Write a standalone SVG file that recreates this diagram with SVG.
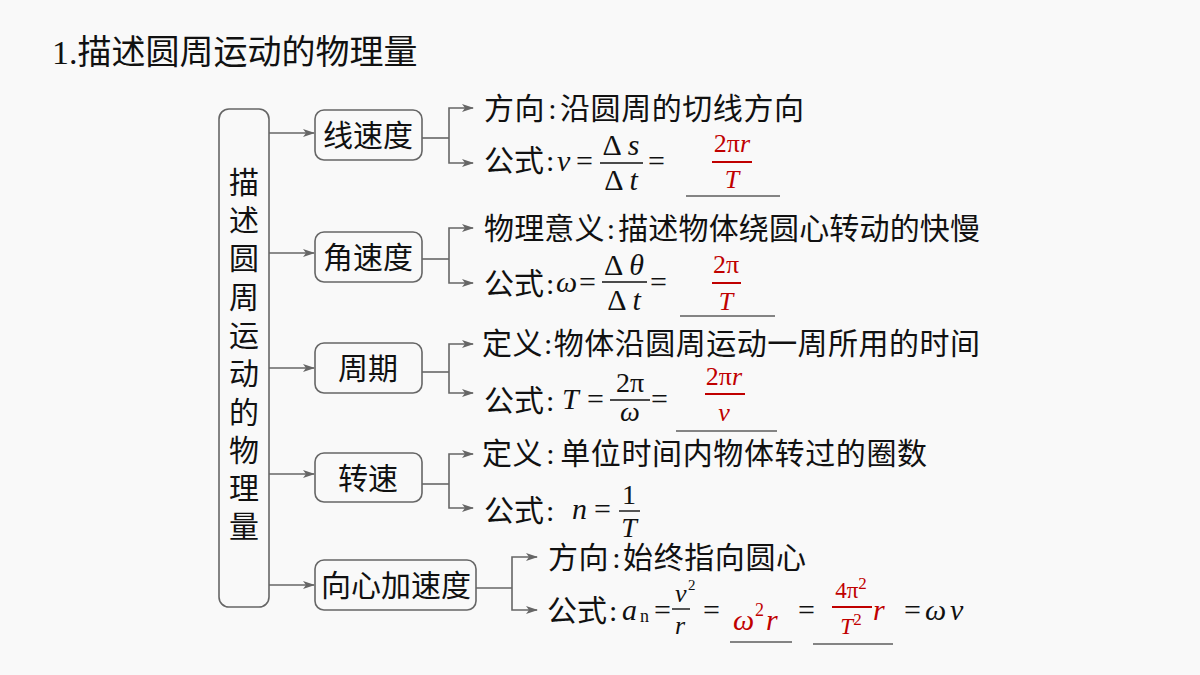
<svg xmlns="http://www.w3.org/2000/svg" width="1200" height="675" viewBox="0 0 1200 675">
<defs>
<marker id="arr" viewBox="0 0 12 10" refX="11" refY="5" markerWidth="12" markerHeight="10" markerUnits="userSpaceOnUse" orient="auto">
<path d="M0,1 L12,5 L0,9 L3,5 z" fill="#666"/>
</marker>
<style>
.t{font-family:"Liberation Serif","Noto Sans CJK SC",serif;fill:#111;}
.cj{font-size:30px;}
.m{font-family:"Liberation Serif",serif;font-size:30px;fill:#111;}
.i{font-style:italic;}
.red{fill:#c00000;}
.box{fill:none;stroke:#666;stroke-width:1.6;}
.con{fill:none;stroke:#666;stroke-width:1.6;}
.fl{stroke:#111;stroke-width:1.4;}
.rl{stroke:#c00000;stroke-width:2;}
.ul{stroke:#111;stroke-width:1.2;}
</style>
</defs>
<rect width="1200" height="675" fill="#f9f9f9"/>
<text class="t" x="52" y="64" style="font-size:34px">1.描述圆周运动的物理量</text>

<g id="root">
<rect class="box" x="219" y="109" width="50" height="498" rx="10"/>
<g class="t cj" text-anchor="middle" dominant-baseline="central">
<text x="244" y="182">描</text>
<text x="244" y="220">述</text>
<text x="244" y="258">圆</text>
<text x="244" y="297">周</text>
<text x="244" y="335">运</text>
<text x="244" y="373">动</text>
<text x="244" y="412">的</text>
<text x="244" y="450">物</text>
<text x="244" y="488">理</text>
<text x="244" y="526">量</text>
</g>
</g>

<g id="n1"><rect class="box" x="315" y="110" width="107" height="50" rx="9"/><text class="t cj" x="368" y="135" text-anchor="middle" dominant-baseline="central">线速度</text></g>
<g id="n2"><rect class="box" x="315" y="232" width="107" height="50" rx="9"/><text class="t cj" x="368" y="257" text-anchor="middle" dominant-baseline="central">角速度</text></g>
<g id="n3"><rect class="box" x="315" y="343" width="107" height="50" rx="9"/><text class="t cj" x="368" y="368" text-anchor="middle" dominant-baseline="central">周期</text></g>
<g id="n4"><rect class="box" x="315" y="453" width="107" height="49" rx="9"/><text class="t cj" x="368" y="478" text-anchor="middle" dominant-baseline="central">转速</text></g>
<g id="n5"><rect class="box" x="315" y="560" width="161" height="50" rx="9"/><text class="t cj" x="396" y="585" text-anchor="middle" dominant-baseline="central">向心加速度</text></g>

<g id="connectors">
<path class="con" d="M269,133 H314" marker-end="url(#arr)"/>
<path class="con" d="M269,253 H314" marker-end="url(#arr)"/>
<path class="con" d="M269,368 H314" marker-end="url(#arr)"/>
<path class="con" d="M269,474 H314" marker-end="url(#arr)"/>
<path class="con" d="M269,585 H314" marker-end="url(#arr)"/>

<path class="con" d="M422,138 H449"/>
<path class="con" d="M449,138 V108 H473" marker-end="url(#arr)"/>
<path class="con" d="M449,138 V163 H473" marker-end="url(#arr)"/>

<path class="con" d="M422,259 H449"/>
<path class="con" d="M449,259 V228 H473" marker-end="url(#arr)"/>
<path class="con" d="M449,259 V283 H473" marker-end="url(#arr)"/>

<path class="con" d="M422,372 H449"/>
<path class="con" d="M449,372 V344 H473" marker-end="url(#arr)"/>
<path class="con" d="M449,372 V393 H473" marker-end="url(#arr)"/>

<path class="con" d="M422,484 H449"/>
<path class="con" d="M449,484 V454 H473" marker-end="url(#arr)"/>
<path class="con" d="M449,484 V508 H473" marker-end="url(#arr)"/>

<path class="con" d="M476,588 H512"/>
<path class="con" d="M512,588 V557 H537" marker-end="url(#arr)"/>
<path class="con" d="M512,588 V610 H537" marker-end="url(#arr)"/>
</g>

<g id="b1">
<text class="t cj" x="484" y="108" dominant-baseline="central" textLength="320">方向<tspan dx="3">:</tspan><tspan dx="3">沿圆周的切线方向</tspan></text>
<text class="t cj" x="484" y="160" dominant-baseline="central">公式<tspan dx="2">:</tspan></text>
<text class="m i" x="557" y="171">v</text>
<text class="m" x="576" y="171">=</text>
<text class="m" x="621" y="155" text-anchor="middle">Δ <tspan class="i">s</tspan></text>
<line class="fl" x1="600" y1="163" x2="643" y2="163"/>
<text class="m" x="621" y="190" text-anchor="middle">Δ <tspan class="i">t</tspan></text>
<text class="m" x="648" y="171">=</text>
<text class="m red" x="732" y="152" text-anchor="middle" style="font-size:26px">2π<tspan class="i">r</tspan></text>
<line class="rl" x1="712" y1="162" x2="752" y2="162"/>
<text class="m red i" x="732" y="188" text-anchor="middle" style="font-size:26px">T</text>
<line class="ul" x1="686" y1="196" x2="780" y2="196"/>
</g>

<g id="b2">
<text class="t cj" x="484" y="228" dominant-baseline="central" textLength="496">物理意义<tspan dx="2">:</tspan><tspan dx="3">描述物体绕圆心转动的快慢</tspan></text>
<text class="t cj" x="484" y="283" dominant-baseline="central">公式<tspan dx="2">:</tspan></text>
<text class="m i" x="556" y="292">ω</text>
<text class="m" x="579" y="292">=</text>
<text class="m" x="624" y="275" text-anchor="middle">Δ <tspan class="i">θ</tspan></text>
<line class="fl" x1="602" y1="282" x2="647" y2="282"/>
<text class="m" x="624" y="310" text-anchor="middle">Δ <tspan class="i">t</tspan></text>
<text class="m" x="650" y="292">=</text>
<text class="m red" x="726" y="273" text-anchor="middle" style="font-size:26px">2π</text>
<line class="rl" x1="712" y1="283" x2="741" y2="283"/>
<text class="m red i" x="726" y="310" text-anchor="middle" style="font-size:26px">T</text>
<line class="ul" x1="680" y1="316" x2="775" y2="316"/>
</g>

<g id="b3">
<text class="t cj" x="482" y="343" dominant-baseline="central" textLength="498">定义<tspan dx="1">:</tspan><tspan dx="1">物体沿圆周运动一周所用的时间</tspan></text>
<text class="t cj" x="484" y="400" dominant-baseline="central">公式<tspan dx="2">:</tspan></text>
<text class="m i" x="562" y="409">T</text>
<text class="m" x="587" y="409">=</text>
<text class="m" x="630" y="392" text-anchor="middle" style="font-size:28px">2π</text>
<line class="fl" x1="610" y1="400" x2="650" y2="400"/>
<text class="m i" x="630" y="421" text-anchor="middle" style="font-size:28px">ω</text>
<text class="m" x="651" y="409">=</text>
<text class="m red" x="724" y="385" text-anchor="middle" style="font-size:26px">2π<tspan class="i">r</tspan></text>
<line class="rl" x1="705" y1="394" x2="745" y2="394"/>
<text class="m red i" x="724" y="421" text-anchor="middle" style="font-size:26px">v</text>
<line class="ul" x1="676" y1="431" x2="777" y2="431"/>
</g>

<g id="b4">
<text class="t cj" x="482" y="453" dominant-baseline="central" textLength="445">定义<tspan dx="3">:</tspan><tspan dx="5">单位时间内物体转过的圈数</tspan></text>
<text class="t cj" x="484" y="510" dominant-baseline="central">公式<tspan dx="2">:</tspan></text>
<text class="m i" x="572" y="519">n</text>
<text class="m" x="594" y="519">=</text>
<text class="m" x="629" y="504" text-anchor="middle" style="font-size:28px">1</text>
<line class="fl" x1="619" y1="511" x2="640" y2="511"/>
<text class="m i" x="629" y="537" text-anchor="middle" style="font-size:28px">T</text>
</g>

<g id="b5">
<text class="t cj" x="548" y="557" dominant-baseline="central" textLength="258">方向<tspan dx="3">:</tspan><tspan dx="2">始终指向圆心</tspan></text>
<text class="t cj" x="547" y="610" dominant-baseline="central">公式<tspan dx="2">:</tspan></text>
<text class="m i" x="622" y="620">a</text>
<text class="m" x="640" y="622" style="font-size:18px">n</text>
<text class="m" x="654" y="620">=</text>
<text class="m i" x="675" y="602" style="font-size:26px">v</text>
<text class="m" x="688" y="590" style="font-size:15px">2</text>
<line class="fl" x1="672" y1="609" x2="690" y2="609"/>
<text class="m i" x="680" y="634" text-anchor="middle" style="font-size:26px">r</text>
<text class="m" x="703" y="620">=</text>
<text class="m red i" x="733" y="630">ω</text>
<text class="m red" x="755" y="616" style="font-size:18px">2</text>
<text class="m red i" x="766" y="630">r</text>
<line class="ul" x1="730" y1="642" x2="792" y2="642"/>
<text class="m" x="798" y="620">=</text>
<text class="m red" x="851" y="598" text-anchor="middle" style="font-size:23px">4π<tspan dy="-9" style="font-size:17px">2</tspan></text>
<line class="rl" x1="832" y1="607" x2="872" y2="607"/>
<text class="m red" x="851" y="634" text-anchor="middle" style="font-size:23px"><tspan class="i">T</tspan><tspan dy="-9" style="font-size:17px">2</tspan></text>
<text class="m red i" x="873" y="620">r</text>
<line class="ul" x1="813" y1="644" x2="893" y2="644"/>
<text class="m" x="904" y="620">=</text>
<text class="m i" x="925" y="620">ω</text>
<text class="m i" x="950" y="620">v</text>
</g>
</svg>
